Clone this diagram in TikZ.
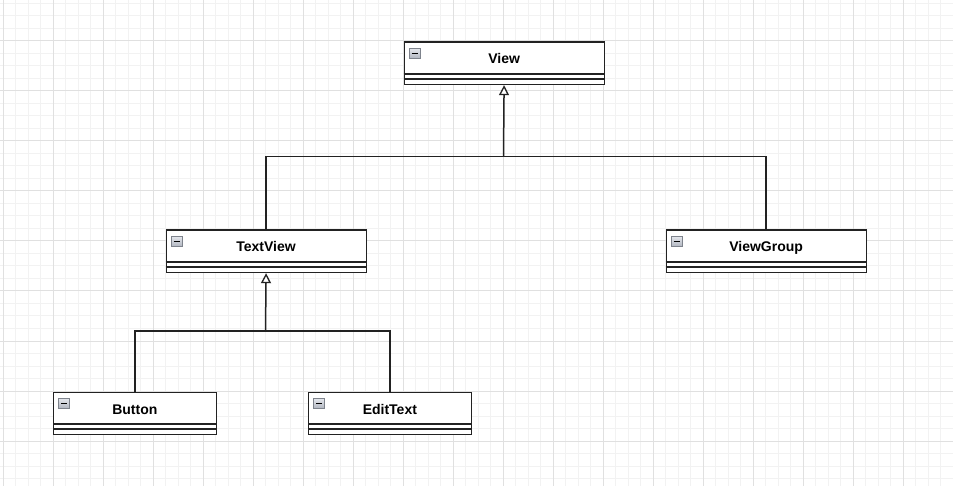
\documentclass[tikz,border=0pt]{standalone}
\usepackage{fontspec}
\setmainfont{Liberation Sans}
\usetikzlibrary{arrows.meta}
\definecolor{minorgrid}{HTML}{F2F2F2}
\definecolor{majorgrid}{HTML}{E0E0E0}
\definecolor{ink}{HTML}{222222}
\definecolor{icontop}{HTML}{E4E7EC}
\definecolor{iconbot}{HTML}{B2B7C1}
\definecolor{iconedge}{HTML}{7E838C}
\tikzset{
 minorline/.style={draw=minorgrid, line width=1pt},
 majorline/.style={draw=majorgrid, line width=1pt},
 classbox/.style={draw=ink, fill=white, line width=1.2pt, rectangle, inner sep=0pt, minimum height=42.5pt, anchor=north west},
 sepline/.style={draw=ink, line width=1.1pt},
 classname/.style={font=\bfseries\fontsize{14}{16}\selectfont, text=black, inner sep=0pt, anchor=base},
 iconbox/.style={draw=iconedge, line width=0.6pt, top color=icontop, bottom color=iconbot},
 conn/.style={draw=ink, line width=1.5pt},
 gen/.style={conn, -{Triangle[length=10pt,width=10pt,fill=white,line width=1.3pt]}},
}
\newcommand\umlclass[5]{%
  \node[classbox, minimum width=#4pt] (#1) at (#2,#3) {};
  \draw[sepline] ([yshift=-32.5pt]#1.north west) -- ([yshift=-32.5pt]#1.north east);
  \draw[sepline] ([yshift=-37.5pt]#1.north west) -- ([yshift=-37.5pt]#1.north east);
  \path[iconbox] ([xshift=5.5pt,yshift=-7pt]#1.north west) rectangle ++(11pt,-9.5pt);
  \draw[black, line width=1.4pt] ([xshift=8pt,yshift=-11.75pt]#1.north west) -- ++(6pt,0pt);
  \node[classname] (#1-label) at ([yshift=-22.5pt]#1.north) {#5};
}
\begin{document}
\begin{tikzpicture}[x=1pt,y=-1pt]
\useasboundingbox (0,0) rectangle (953,486);
\fill[white] (0,0) rectangle (953,486);
% grid
\foreach \k in {0,...,76} {\draw[minorline] ({3+12.5*\k},0) -- ({3+12.5*\k},486);}
\foreach \k in {0,...,38} {\draw[minorline] (0,{3.5+12.5*\k}) -- (953,{3.5+12.5*\k});}
\foreach \k in {0,...,19} {\draw[majorline] ({3+50*\k},0) -- ({3+50*\k},486);}
\foreach \k in {0,...,8} {\draw[majorline] (0,{41+50*\k}) -- (953,{41+50*\k});}
% classes
\umlclass{view}{403.5}{41.5}{200}{View}
\umlclass{textview}{165.5}{229.5}{200}{TextView}
\umlclass{viewgroup}{665.5}{229.5}{200}{ViewGroup}
\umlclass{button}{53}{391.5}{162.5}{Button}
\umlclass{edittext}{308}{391.5}{162.5}{EditText}
% connectors
\coordinate (j1) at (503.5,156.5);
\coordinate (j2) at (265.5,331);
\draw[conn] (textview.north) |- (j1);
\draw[conn] (viewgroup.north) |- (j1);
\draw[gen] (j1) -- (view.south);
\draw[conn] (button.north) |- (j2);
\draw[conn] (edittext.north) |- (j2);
\draw[gen] (j2) -- (textview.south);
\end{tikzpicture}
\end{document}
